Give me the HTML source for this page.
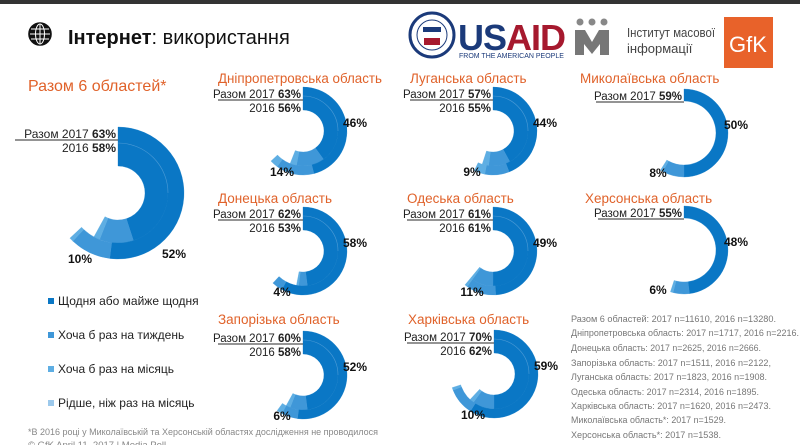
<!DOCTYPE html>
<html><head><meta charset="utf-8">
<style>
body{margin:0;width:800px;height:445px;overflow:hidden;background:#fff;font-family:"Liberation Sans",sans-serif;}
#root{position:relative;width:800px;height:445px;}
</style></head>
<body><div id="root">
<svg id="s" width="800" height="445" xmlns="http://www.w3.org/2000/svg" style="position:absolute;left:0;top:0" font-family="Liberation Sans, sans-serif">
<rect x="0" y="0" width="800" height="4" fill="#333"/>
<g transform="translate(40,34)" stroke="#111" fill="none" stroke-width="1.6">
<circle r="11" fill="#111"/>
<g stroke="#fff" stroke-width="1"><ellipse rx="4.5" ry="10"/><line x1="0" y1="-10" x2="0" y2="10"/><line x1="-10" y1="0" x2="10" y2="0"/><path d="M-9 -5 H9 M-9 5 H9"/></g>
</g>
<text x="68" y="44" font-size="20" fill="#111"><tspan font-weight="bold">Інтернет</tspan>: використання</text>
<circle cx="432" cy="35" r="22" fill="#fff" stroke="#1b3a7a" stroke-width="3"/>
<circle cx="432" cy="35" r="15" fill="#fff" stroke="#1b3a7a" stroke-width="1"/>
<rect x="423" y="27" width="18" height="5" fill="#1b3a7a"/>
<rect x="424" y="38" width="16" height="7" fill="#a6192e"/>
<text x="458" y="50" font-size="36" font-weight="bold" fill="#1b3a7a" letter-spacing="-1">US<tspan fill="#a6192e">AID</tspan></text>
<text x="459" y="58" font-size="7" fill="#1b3a7a">FROM THE AMERICAN PEOPLE</text>
<circle cx="580" cy="22" r="3.5" fill="#888"/><circle cx="592" cy="22" r="3.5" fill="#888"/><circle cx="604" cy="22" r="3.5" fill="#888"/>
<path d="M575 30 L585 30 L592 42 L599 30 L609 30 L609 55 L600 55 L600 44 L592 54 L584 44 L584 55 L575 55Z" fill="#777"/>
<text x="627" y="37" font-size="13" fill="#444" textLength="88" lengthAdjust="spacingAndGlyphs">Інститут масової</text>
<text x="627" y="53" font-size="13" fill="#444">інформації</text>
<rect x="724" y="17" width="49" height="51" fill="#e8622a"/>
<text x="729" y="52" font-size="22" fill="#fff">GfK</text>
<g fill="#e0622a">
<text x="28" y="91" font-size="16">Разом 6 областей*</text>
<text x="218" y="83" font-size="13.5" textLength="164" lengthAdjust="spacingAndGlyphs">Дніпропетровська область</text>
<text x="410" y="83" font-size="13.5">Луганська область</text>
<text x="580" y="83" font-size="13.5">Миколаївська область</text>
<text x="218" y="203" font-size="13.5">Донецька область</text>
<text x="407" y="203" font-size="13.5">Одеська область</text>
<text x="585" y="203" font-size="13.5">Херсонська область</text>
<text x="218" y="324" font-size="13.5">Запорізька область</text>
<text x="408" y="324" font-size="13.5">Харківська область</text>
</g>
<g font-size="12" fill="#222">
<rect x="48" y="298" width="6" height="6" fill="#0a77c5"/><text x="58" y="305">Щодня або майже щодня</text>
<rect x="48" y="332" width="6" height="6" fill="#3f97d8"/><text x="58" y="339">Хоча б раз на тиждень</text>
<rect x="48" y="366" width="6" height="6" fill="#5eaee3"/><text x="58" y="373">Хоча б раз на місяць</text>
<rect x="48" y="400" width="6" height="6" fill="#9cc9ec"/><text x="58" y="407">Рідше, ніж раз на місяць</text>
</g>
<text x="28" y="435" font-size="9.5" fill="#888" textLength="350" lengthAdjust="spacingAndGlyphs">*В 2016 році у Миколаївській та Херсонській областях дослідження не проводилося</text>
<text x="28" y="448" font-size="9.5" fill="#888">© GfK April 11, 2017 | Media Poll</text>
<g font-size="9" fill="#777">
<text x="571" y="322" textLength="205" lengthAdjust="spacingAndGlyphs">Разом 6 областей: 2017 n=11610, 2016 n=13280.</text>
<text x="571" y="336" textLength="228" lengthAdjust="spacingAndGlyphs">Дніпропетровська область: 2017 n=1717, 2016 n=2216.</text>
<text x="571" y="351" textLength="190" lengthAdjust="spacingAndGlyphs">Донецька область: 2017 n=2625, 2016 n=2666.</text>
<text x="571" y="366" textLength="200" lengthAdjust="spacingAndGlyphs">Запорізька область: 2017 n=1511, 2016 n=2122,</text>
<text x="571" y="380" textLength="196" lengthAdjust="spacingAndGlyphs">Луганська область: 2017 n=1823, 2016 n=1908.</text>
<text x="571" y="395" textLength="188" lengthAdjust="spacingAndGlyphs">Одеська область: 2017 n=2314, 2016 n=1895.</text>
<text x="571" y="409" textLength="200" lengthAdjust="spacingAndGlyphs">Харківська область: 2017 n=1620, 2016 n=2473.</text>
<text x="571" y="423" textLength="155" lengthAdjust="spacingAndGlyphs">Миколаївська область*: 2017 n=1529.</text>
<text x="571" y="438" textLength="150" lengthAdjust="spacingAndGlyphs">Херсонська область*: 2017 n=1538.</text>
</g>
<g id="charts"></g>
</svg>
<script>
var C=['#0a77c5','#3f97d8','#5eaee3','#9cc9ec'];
var g=document.getElementById('charts'),h='';
function arc(cx,cy,r1,r2,a0,a1,col){
 function p(r,a){var t=(a*3.6-90)*Math.PI/180;return (cx+r*Math.cos(t)).toFixed(2)+' '+(cy+r*Math.sin(t)).toFixed(2);}
 var l=(a1-a0)>50?1:0;
 return '<path d="M'+p(r2,a0)+' A'+r2+' '+r2+' 0 '+l+' 1 '+p(r2,a1)+' L'+p(r1,a1)+' A'+r1+' '+r1+' 0 '+l+' 0 '+p(r1,a0)+'Z" fill="'+col+'" stroke="'+col+'" stroke-width="0.3"/>';
}
function ring(cx,cy,r1,r2,d){var a=0;d.forEach(function(v,i){if(v>0){h+=arc(cx,cy,r1,r2,a,a+v,C[i]);a+=v;}});}
function chart(o){
 var R=o.R,cx=o.cx,cy=o.cy,fs=o.big?12:11.5;
 if(o.d16){ring(cx,cy,o.ri,o.rs,o.d16);ring(cx,cy,o.rs,R,o.d17);
  h+='<path d="M'+cx+' '+(cy-o.rs)+' A'+o.rs+' '+o.rs+' 0 0 1 '+(cx+o.rs)+' '+cy+'" fill="none" stroke="#4a9ad6" stroke-width="0.6"/>';}
 else ring(cx,cy,o.ri,R,o.d17);
 h+='<line x1="'+o.ul+'" y1="'+(cy-R+13)+'" x2="'+(cx)+'" y2="'+(cy-R+13)+'" stroke="#555" stroke-width="1.3"/>';
 h+='<text x="'+(cx-2)+'" y="'+(cy-R+11)+'" font-size="'+fs+'" text-anchor="end" fill="#222">Разом 2017 <tspan font-weight="bold">'+o.t17+'%</tspan></text>';
 if(o.t16) h+='<text x="'+(cx-2)+'" y="'+(cy-R+25)+'" font-size="'+fs+'" text-anchor="end" fill="#222">2016 <tspan font-weight="bold">'+o.t16+'%</tspan></text>';
 var d=o.d17;
 h+='<text x="'+o.lx1+'" y="'+o.ly1+'" font-size="12" font-weight="bold" text-anchor="middle" fill="#111">'+d[0]+'%</text>';
 h+='<text x="'+o.lx2+'" y="'+o.ly2+'" font-size="12" font-weight="bold" text-anchor="middle" fill="#111">'+d[1]+'%</text>';
}
chart({cx:118,cy:193,R:66,rs:50,ri:27,big:1,d17:[52,10,1],d16:[45,11,2],t17:63,t16:58,ul:15,lx1:174,ly1:258,lx2:80,ly2:263});
function sm(cx,cy,d17,d16,t17,t16,ul){
 var o={cx:cx,cy:cy,R:44,rs:35,ri:21,d17:d17,d16:d16,t17:t17,t16:t16,ul:ul,lx1:cx+52,ly1:cy-4,lx2:cx-21,ly2:cy+45};
 if(!d16){o.ri=32;o.lx2=cx-26;o.ly2=cy+44;o.lx1=cx+52;}
 chart(o);
}
sm(303,131,[46,14,3],[40,13,3],63,56,218);
sm(493,131,[44,9,4],[42,10,3],57,55,410);
sm(684,133,[50,8,1],null,59,null,596);
sm(303,251,[58,4],[48,4,1],62,53,218);
sm(493,251,[49,11,1],[50,10,1],61,61,407);
sm(684,250,[48,6,1],null,55,null,598);
sm(303,375,[52,6,2],[48,8,2],60,58,218);
sm(494,374,[59,10,1],[50,10,2],70,62,407);
g.innerHTML=h;
</script>
</div></body></html>
